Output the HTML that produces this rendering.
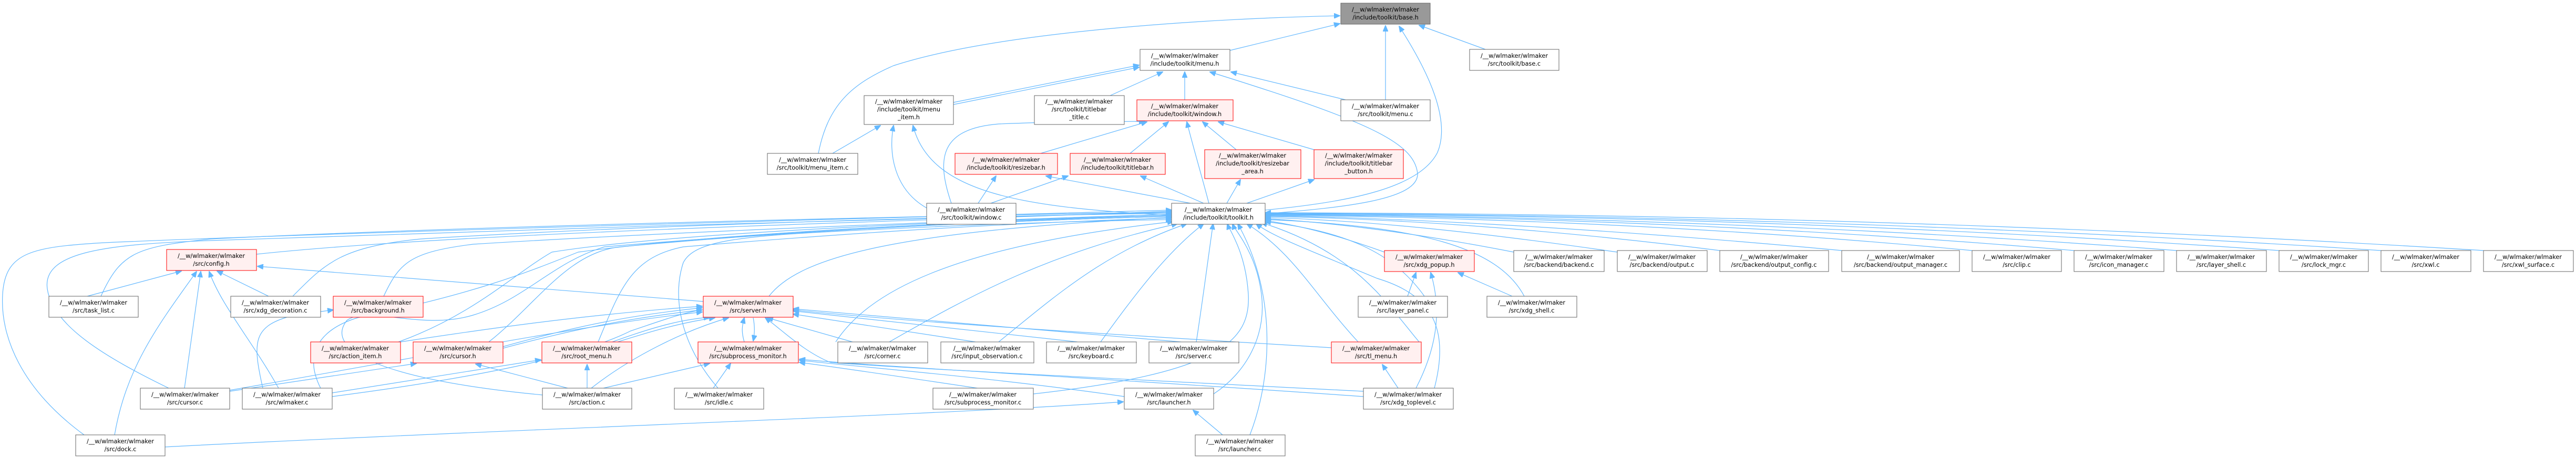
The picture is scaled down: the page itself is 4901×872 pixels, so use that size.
<!DOCTYPE html>
<html><head><meta charset="utf-8"><style>
html,body{margin:0;padding:0;background:#fff;}
svg{display:block;}
text{font-family:"DejaVu Sans","Liberation Sans",sans-serif;font-size:11.3px;fill:#000;text-anchor:middle;}
.e{fill:none;stroke:#63b8ff;stroke-width:1.2;}
.n{fill:#fff;stroke:#666;stroke-width:1;}
.r{fill:#fff0f0;stroke:#ff0000;stroke-width:1;}
.g{fill:#999;stroke:#666;stroke-width:1;}
</style></head><body>
<svg width="4901" height="872" viewBox="0 0 4901 872" xmlns="http://www.w3.org/2000/svg">
<defs><marker id="a" markerWidth="12" markerHeight="10" refX="11" refY="5" orient="auto" markerUnits="userSpaceOnUse"><path d="M0,0 L12,5 L0,10 z" fill="#63b8ff" stroke="#63b8ff"/></marker></defs>
<g class="e" marker-end="url(#a)">
<path d="M2340,96 L2549,45"/>
<path d="M1557,292 C1575,200 1620,160 1700,125 C1900,60 2300,35 2549,30"/>
<path d="M2826,94 L2700,48"/>
<path d="M2636,190 L2636,49"/>
<path d="M2407,400 C2560,385 2700,360 2735,290 C2760,230 2720,140 2662,50"/>
<path d="M2407,407 C2560,395 2700,380 2697,330 C2690,270 2600,230 2302,137"/>
<path d="M1814,195 L2167,124"/>
<path d="M1814,199 L2167,128"/>
<path d="M2112,182 L2212,137"/>
<path d="M2254,190 L2254,137"/>
<path d="M2560,190 L2342,137"/>
<path d="M1584,292 L1675,239"/>
<path d="M1763,396 C1700,360 1690,290 1700,239"/>
<path d="M2229,410 C1950,395 1770,370 1737,239"/>
<path d="M1810,387 C1780,300 1790,245 1900,236 C2050,230 2120,232 2178,231"/>
<path d="M1980,292 L2182,232"/>
<path d="M2150,292 L2223,232"/>
<path d="M2352,285 L2288,232"/>
<path d="M2500,285 L2318,232"/>
<path d="M2300,387 C2285,330 2270,280 2258,232"/>
<path d="M1861,387 L1895,335"/>
<path d="M1885,387 L2032,335"/>
<path d="M2265,387 L1990,335"/>
<path d="M2290,387 L2170,335"/>
<path d="M2334,387 L2360,342"/>
<path d="M2372,387 L2500,342"/>
<path d="M488,484 C900,440 1800,420 2229,402"/>
<path d="M192,564 C230,480 260,470 400,455 C900,430 1800,410 2229,404"/>
<path d="M557,564 C620,500 650,470 800,455 C1200,430 1800,412 2229,406"/>
<path d="M730,564 C760,500 780,480 900,465 C1300,440 1900,418 2229,408"/>
<path d="M1463,564 C1520,490 1700,440 2229,414"/>
<path d="M758,651 C900,600 980,520 1050,480 C1300,440 1900,418 2229,410"/>
<path d="M930,651 C1020,580 1080,480 1180,470 C1500,440 1900,420 2229,412"/>
<path d="M1138,651 C1180,550 1200,490 1300,470 C1600,445 1900,425 2229,415"/>
<path d="M1590,651 C1650,560 1800,470 2232,422"/>
<path d="M1692,651 C1850,560 2000,480 2240,426"/>
<path d="M1900,651 C2000,570 2100,480 2258,426"/>
<path d="M2094,651 C2160,560 2220,480 2290,426"/>
<path d="M2276,651 C2290,560 2300,480 2308,426"/>
<path d="M2584,651 C2500,560 2460,480 2372,426"/>
<path d="M1366,739 C1290,650 1280,560 1300,500 C1320,460 1400,450 1600,440 C1900,425 2100,420 2229,418"/>
<path d="M1966,750 C2320,710 2380,650 2375,560 C2370,480 2340,440 2335,426"/>
<path d="M2309,750 C2370,710 2410,640 2400,560 C2390,480 2350,440 2345,426"/>
<path d="M2378,828 C2420,720 2430,560 2355,426"/>
<path d="M2729,739 C2760,620 2720,560 2620,530 C2500,480 2420,450 2390,426"/>
<path d="M2700,651 C2640,580 2580,480 2400,424"/>
<path d="M160,828 C40,740 0,640 5,560 C10,480 60,470 200,462 C700,440 1800,412 2229,400"/>
<path d="M610,739 C580,680 600,630 680,605 C900,560 1000,520 1100,480 C1400,440 1900,420 2229,410"/>
<path d="M321,739 C200,680 100,620 90,550 C80,480 200,465 400,458 C900,440 1800,412 2229,404"/>
<path d="M2634,480 C2550,450 2480,430 2407,420"/>
<path d="M2710,564 C2650,480 2560,440 2407,422"/>
<path d="M2900,564 C2850,470 2700,430 2407,418"/>
<path d="M2880,480 C2700,445 2550,425 2407,416"/>
<path d="M3077,480 C2800,440 2600,420 2407,414"/>
<path d="M3272,477 C2900,430 2600,415 2407,412"/>
<path d="M3504,477 C3000,430 2600,413 2407,411"/>
<path d="M3752,477 C3200,425 2700,412 2407,410"/>
<path d="M3946,477 C3300,422 2700,410 2407,409"/>
<path d="M4141,477 C3400,420 2700,409 2407,408"/>
<path d="M4336,477 C3500,418 2800,408 2407,407"/>
<path d="M4530,477 C3600,416 2800,407 2407,406"/>
<path d="M4725,477 C3700,414 2900,406 2407,405"/>
<path d="M166,564 L345,516"/>
<path d="M511,564 L413,516"/>
<path d="M351,739 L382,517"/>
<path d="M530,739 C480,650 420,580 398,517"/>
<path d="M218,828 C240,700 300,620 374,517"/>
<path d="M1338,574 L490,507"/>
<path d="M762,651 C900,630 1100,600 1336,583"/>
<path d="M957,660 C1100,620 1200,600 1336,586"/>
<path d="M957,663 C1100,625 1200,605 1336,590"/>
<path d="M1165,651 C1250,620 1300,608 1350,604"/>
<path d="M1175,651 C1260,624 1310,612 1360,605"/>
<path d="M1416,651 C1410,630 1412,620 1416,605"/>
<path d="M1433,605 C1436,620 1436,635 1433,649"/>
<path d="M1125,739 C1200,680 1300,630 1386,605"/>
<path d="M1622,651 L1460,605"/>
<path d="M1856,651 L1509,598"/>
<path d="M2050,651 L1509,592"/>
<path d="M2247,651 L1509,588"/>
<path d="M2533,662 C2000,630 1700,610 1509,590"/>
<path d="M2594,745 C2100,720 1700,700 1580,690 C1530,670 1490,630 1456,605"/>
<path d="M632,755 C900,720 1100,680 1200,630 C1260,610 1300,595 1336,590"/>
<path d="M437,743 C800,680 1100,620 1336,594"/>
<path d="M437,745 L792,692"/>
<path d="M1080,739 L905,693"/>
<path d="M632,748 L1029,685"/>
<path d="M1117,739 L1117,694"/>
<path d="M1032,752 C700,720 620,660 660,610 C700,580 800,630 900,600 C1000,570 1050,500 1150,470 C1500,440 1900,420 2229,412"/>
<path d="M500,739 C480,650 480,620 560,600 L634,590"/>
<path d="M1357,739 L1390,692"/>
<path d="M1148,739 L1350,692"/>
<path d="M1966,755 C1800,730 1600,700 1521,690"/>
<path d="M2139,755 C1900,720 1650,700 1521,686"/>
<path d="M2594,755 C2100,720 1700,700 1521,684"/>
<path d="M2678,564 L2694,519"/>
<path d="M2877,564 L2774,519"/>
<path d="M2694,739 C2740,650 2740,580 2722,519"/>
<path d="M2660,739 L2630,694"/>
<path d="M2326,828 L2270,781"/>
<path d="M314,851 C900,820 1800,790 2137,765"/>
</g>
<g>
<rect class="g" x="2551" y="6" width="170" height="40"/><text x="2636" y="22">/__w/wlmaker/wlmaker</text><text x="2636" y="37">/include/toolkit/base.h</text>
<rect class="n" x="2169" y="94" width="171" height="40"/><text x="2254" y="110">/__w/wlmaker/wlmaker</text><text x="2254" y="125">/include/toolkit/menu.h</text>
<rect class="n" x="2796" y="94" width="170" height="40"/><text x="2881" y="110">/__w/wlmaker/wlmaker</text><text x="2881" y="125">/src/toolkit/base.c</text>
<rect class="n" x="1644" y="182" width="170" height="55"/><text x="1729" y="197">/__w/wlmaker/wlmaker</text><text x="1729" y="212">/include/toolkit/menu</text><text x="1729" y="227">_item.h</text>
<rect class="n" x="1968" y="182" width="171" height="55"/><text x="2053" y="197">/__w/wlmaker/wlmaker</text><text x="2053" y="212">/src/toolkit/titlebar</text><text x="2053" y="227">_title.c</text>
<rect class="r" x="2163" y="190" width="183" height="40"/><text x="2254" y="206">/__w/wlmaker/wlmaker</text><text x="2254" y="221">/include/toolkit/window.h</text>
<rect class="n" x="2551" y="190" width="170" height="40"/><text x="2636" y="206">/__w/wlmaker/wlmaker</text><text x="2636" y="221">/src/toolkit/menu.c</text>
<rect class="n" x="1460" y="292" width="172" height="40"/><text x="1546" y="308">/__w/wlmaker/wlmaker</text><text x="1546" y="323">/src/toolkit/menu_item.c</text>
<rect class="r" x="1817" y="292" width="195" height="40"/><text x="1914" y="308">/__w/wlmaker/wlmaker</text><text x="1914" y="323">/include/toolkit/resizebar.h</text>
<rect class="r" x="2036" y="292" width="181" height="40"/><text x="2126" y="308">/__w/wlmaker/wlmaker</text><text x="2126" y="323">/include/toolkit/titlebar.h</text>
<rect class="r" x="2292" y="285" width="183" height="55"/><text x="2383" y="300">/__w/wlmaker/wlmaker</text><text x="2383" y="315">/include/toolkit/resizebar</text><text x="2383" y="330">_area.h</text>
<rect class="r" x="2500" y="285" width="170" height="55"/><text x="2585" y="300">/__w/wlmaker/wlmaker</text><text x="2585" y="315">/include/toolkit/titlebar</text><text x="2585" y="330">_button.h</text>
<rect class="n" x="1763" y="387" width="170" height="40"/><text x="1848" y="403">/__w/wlmaker/wlmaker</text><text x="1848" y="418">/src/toolkit/window.c</text>
<rect class="n" x="2229" y="387" width="178" height="40"/><text x="2318" y="403">/__w/wlmaker/wlmaker</text><text x="2318" y="418">/include/toolkit/toolkit.h</text>
<rect class="r" x="317" y="475" width="171" height="40"/><text x="402" y="491">/__w/wlmaker/wlmaker</text><text x="402" y="506">/src/config.h</text>
<rect class="r" x="2634" y="477" width="171" height="40"/><text x="2719" y="493">/__w/wlmaker/wlmaker</text><text x="2719" y="508">/src/xdg_popup.h</text>
<rect class="n" x="2880" y="477" width="172" height="40"/><text x="2966" y="493">/__w/wlmaker/wlmaker</text><text x="2966" y="508">/src/backend/backend.c</text>
<rect class="n" x="3077" y="477" width="171" height="40"/><text x="3162" y="493">/__w/wlmaker/wlmaker</text><text x="3162" y="508">/src/backend/output.c</text>
<rect class="n" x="3272" y="477" width="207" height="40"/><text x="3375" y="493">/__w/wlmaker/wlmaker</text><text x="3375" y="508">/src/backend/output_config.c</text>
<rect class="n" x="3504" y="477" width="224" height="40"/><text x="3616" y="493">/__w/wlmaker/wlmaker</text><text x="3616" y="508">/src/backend/output_manager.c</text>
<rect class="n" x="3752" y="477" width="170" height="40"/><text x="3837" y="493">/__w/wlmaker/wlmaker</text><text x="3837" y="508">/src/clip.c</text>
<rect class="n" x="3946" y="477" width="171" height="40"/><text x="4031" y="493">/__w/wlmaker/wlmaker</text><text x="4031" y="508">/src/icon_manager.c</text>
<rect class="n" x="4141" y="477" width="171" height="40"/><text x="4226" y="493">/__w/wlmaker/wlmaker</text><text x="4226" y="508">/src/layer_shell.c</text>
<rect class="n" x="4336" y="477" width="170" height="40"/><text x="4421" y="493">/__w/wlmaker/wlmaker</text><text x="4421" y="508">/src/lock_mgr.c</text>
<rect class="n" x="4530" y="477" width="171" height="40"/><text x="4615" y="493">/__w/wlmaker/wlmaker</text><text x="4615" y="508">/src/xwl.c</text>
<rect class="n" x="4725" y="477" width="171" height="40"/><text x="4810" y="493">/__w/wlmaker/wlmaker</text><text x="4810" y="508">/src/xwl_surface.c</text>
<rect class="n" x="93" y="564" width="170" height="40"/><text x="178" y="580">/__w/wlmaker/wlmaker</text><text x="178" y="595">/src/task_list.c</text>
<rect class="n" x="439" y="564" width="171" height="40"/><text x="524" y="580">/__w/wlmaker/wlmaker</text><text x="524" y="595">/src/xdg_decoration.c</text>
<rect class="r" x="634" y="564" width="171" height="40"/><text x="719" y="580">/__w/wlmaker/wlmaker</text><text x="719" y="595">/src/background.h</text>
<rect class="r" x="1338" y="564" width="171" height="40"/><text x="1423" y="580">/__w/wlmaker/wlmaker</text><text x="1423" y="595">/src/server.h</text>
<rect class="n" x="2584" y="564" width="170" height="40"/><text x="2669" y="580">/__w/wlmaker/wlmaker</text><text x="2669" y="595">/src/layer_panel.c</text>
<rect class="n" x="2829" y="564" width="171" height="40"/><text x="2914" y="580">/__w/wlmaker/wlmaker</text><text x="2914" y="595">/src/xdg_shell.c</text>
<rect class="r" x="591" y="651" width="171" height="40"/><text x="676" y="667">/__w/wlmaker/wlmaker</text><text x="676" y="682">/src/action_item.h</text>
<rect class="r" x="786" y="651" width="171" height="40"/><text x="871" y="667">/__w/wlmaker/wlmaker</text><text x="871" y="682">/src/cursor.h</text>
<rect class="r" x="1031" y="651" width="171" height="40"/><text x="1116" y="667">/__w/wlmaker/wlmaker</text><text x="1116" y="682">/src/root_menu.h</text>
<rect class="r" x="1328" y="651" width="191" height="40"/><text x="1423" y="667">/__w/wlmaker/wlmaker</text><text x="1423" y="682">/src/subprocess_monitor.h</text>
<rect class="n" x="1594" y="651" width="171" height="40"/><text x="1679" y="667">/__w/wlmaker/wlmaker</text><text x="1679" y="682">/src/corner.c</text>
<rect class="n" x="1790" y="651" width="177" height="40"/><text x="1878" y="667">/__w/wlmaker/wlmaker</text><text x="1878" y="682">/src/input_observation.c</text>
<rect class="n" x="1991" y="651" width="171" height="40"/><text x="2076" y="667">/__w/wlmaker/wlmaker</text><text x="2076" y="682">/src/keyboard.c</text>
<rect class="n" x="2186" y="651" width="171" height="40"/><text x="2271" y="667">/__w/wlmaker/wlmaker</text><text x="2271" y="682">/src/server.c</text>
<rect class="r" x="2533" y="651" width="171" height="40"/><text x="2618" y="667">/__w/wlmaker/wlmaker</text><text x="2618" y="682">/src/tl_menu.h</text>
<rect class="n" x="267" y="739" width="170" height="40"/><text x="352" y="755">/__w/wlmaker/wlmaker</text><text x="352" y="770">/src/cursor.c</text>
<rect class="n" x="461" y="739" width="171" height="40"/><text x="546" y="755">/__w/wlmaker/wlmaker</text><text x="546" y="770">/src/wlmaker.c</text>
<rect class="n" x="1032" y="739" width="170" height="40"/><text x="1117" y="755">/__w/wlmaker/wlmaker</text><text x="1117" y="770">/src/action.c</text>
<rect class="n" x="1283" y="739" width="170" height="40"/><text x="1368" y="755">/__w/wlmaker/wlmaker</text><text x="1368" y="770">/src/idle.c</text>
<rect class="n" x="1775" y="739" width="191" height="40"/><text x="1870" y="755">/__w/wlmaker/wlmaker</text><text x="1870" y="770">/src/subprocess_monitor.c</text>
<rect class="n" x="2139" y="739" width="170" height="40"/><text x="2224" y="755">/__w/wlmaker/wlmaker</text><text x="2224" y="770">/src/launcher.h</text>
<rect class="n" x="2594" y="739" width="171" height="40"/><text x="2679" y="755">/__w/wlmaker/wlmaker</text><text x="2679" y="770">/src/xdg_toplevel.c</text>
<rect class="n" x="144" y="828" width="170" height="40"/><text x="229" y="844">/__w/wlmaker/wlmaker</text><text x="229" y="859">/src/dock.c</text>
<rect class="n" x="2274" y="828" width="171" height="40"/><text x="2359" y="844">/__w/wlmaker/wlmaker</text><text x="2359" y="859">/src/launcher.c</text>
</g>
</svg>
</body></html>
